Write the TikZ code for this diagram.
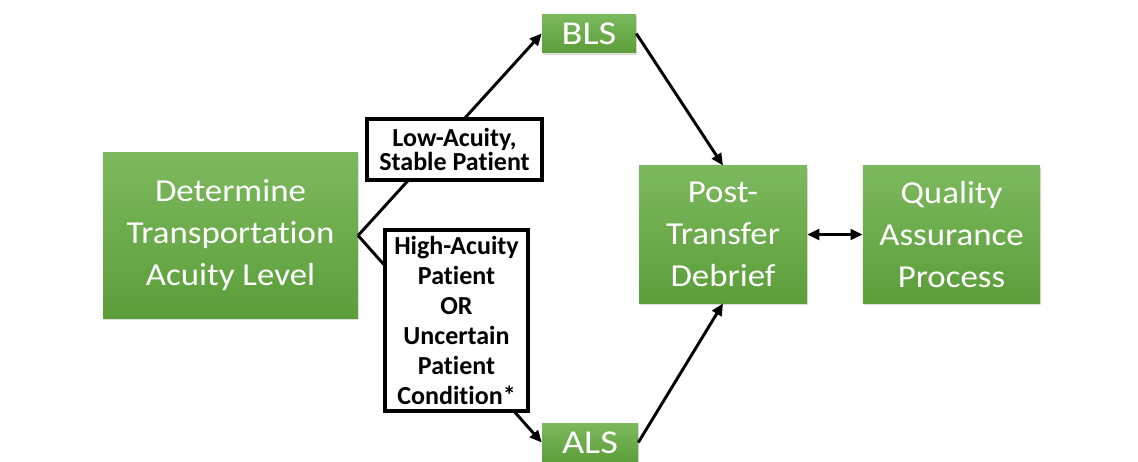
\documentclass[tikz,border=0pt]{standalone}
\usepackage{fontspec}
\setmainfont[Ligatures=NoCommon]{Carlito}
\newfontfamily\stepfont[FakeStretch=1.09,Ligatures=NoCommon]{Carlito}
\newfontfamily\levelfont[FakeStretch=1.15,Ligatures=NoCommon]{Carlito}
\usetikzlibrary{arrows.meta,shadows}
\definecolor{greentop}{RGB}{124,185,94}
\definecolor{greenbot}{RGB}{92,158,58}
\tikzset{
 greenbox/.style={top color=greentop,bottom color=greenbot,draw=none,text=white,
   align=center,inner sep=0pt,font=\stepfont\fontsize{24}{31.5}\selectfont,
   drop shadow={opacity=0.25,shadow xshift=0.8pt,shadow yshift=-1.5pt}},
 levelbox/.style={greenbox,font=\levelfont\fontsize{25}{30}\selectfont},
 notebox/.style={fill=white,draw=black,line width=3pt,align=center,inner sep=0pt,
   font=\bfseries\fontsize{19.5}{22.5}\selectfont},
 link/.style={line width=2.2pt,-{Triangle[length=9pt,width=8pt]}},
}
\begin{document}
\begin{tikzpicture}[x=0.75pt,y=-0.75pt]
 \useasboundingbox (0,0) rectangle (1138,461);
 % green steps
 \node[greenbox,minimum width=191pt,minimum height=124pt] (determine) at (230.5,235.5) {Determine\\Transportation\\Acuity Level};
 \node[levelbox,minimum width=70.5pt,minimum height=29pt] (bls) at (589,33.5) {BLS};
 \node[levelbox,minimum width=72pt,minimum height=29pt] (als) at (590,442.5) {ALS};
 \node[greenbox,minimum width=126pt,minimum height=103pt] (debrief) at (723,234.5) {Post-\\Transfer\\Debrief};
 \node[greenbox,minimum width=133pt,minimum height=103pt] (quality) at (951.5,234.5) {Quality\\Assurance\\Process};
 % connectors
 \draw[link] (determine.east) -- (bls.west);
 \draw[link] (determine.east) -- (als.west);
 \draw[link] (bls.east) -- (debrief.north);
 \draw[link] (als.east) -- (debrief.south);
 \draw[link,{Triangle[length=9pt,width=8pt]}-{Triangle[length=9pt,width=8pt]}] (debrief.east) -- (quality.west);
 % conditions
 \node[notebox,minimum width=131pt,minimum height=46pt,font=\bfseries\fontsize{19.5}{18}\selectfont] (low) at (454.5,149.5) {Low-Acuity,\\Stable Patient};
 \node[notebox,minimum width=107pt,minimum height=136pt] (high) at (456.5,320.5) {High-Acuity\\Patient\\OR\\Uncertain\\Patient\\Condition*};
\end{tikzpicture}
\end{document}
